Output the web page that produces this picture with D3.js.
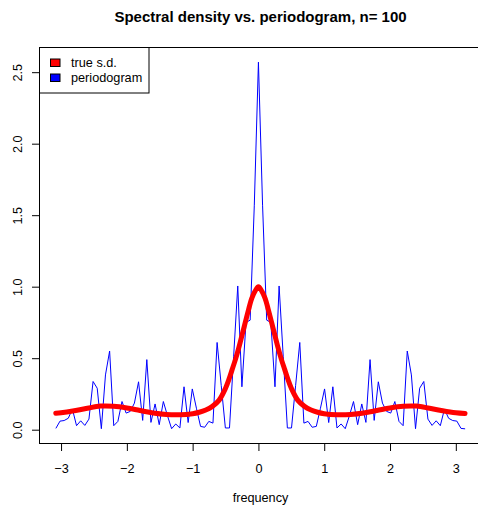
<!DOCTYPE html>
<meta charset="utf-8">
<html>
<script src="https://d3js.org/d3.v7.min.js"></script>
<style>
  body { margin: 0; background: white; }
  text { font-family: "Liberation Sans", Arial, sans-serif; fill: black; }
</style>
<body>
<div id="my_dataviz"></div>
<script>

// periodogram, frequencies 2*pi*k/100 for k = -49..50
const pgramK = d3.range(-49, 51)
const pgramValue = [
  0.009, 0.06, 0.064, 0.08, 0.144, 0.028, 0.062, 0.03, 0.074, 0.337,
  0.29, 0.007, 0.383, 0.55, 0.028, 0.058, 0.197, 0.116, 0.128, 0.186,
  0.335, 0.065, 0.49, 0.051, 0.18, 0.035, 0.197, 0.097, 0.007, 0.04,
  0.012, 0.30, 0.05, 0.285, 0.15, 0.023, 0.017, 0.058, 0.046, 0.61,
  0.31, 0.012, 0.012, 0.51, 1.005, 0.30, 0.75, 0.766, 1.57,
  2.57,
  1.57, 0.766, 0.75, 0.30, 1.005, 0.51, 0.012, 0.012, 0.31, 0.61,
  0.046, 0.058, 0.017, 0.023, 0.15, 0.285, 0.05, 0.30, 0.012, 0.04,
  0.007, 0.097, 0.197, 0.035, 0.18, 0.051, 0.49, 0.065, 0.335, 0.186,
  0.128, 0.116, 0.197, 0.058, 0.028, 0.55, 0.383, 0.007, 0.29, 0.337,
  0.074, 0.03, 0.062, 0.028, 0.144, 0.08, 0.064, 0.06, 0.009,
  0.006
]

// true spectral density
const sdFreq = [-3.08, -3.0, -2.8, -2.6, -2.4, -2.2, -2.0, -1.8, -1.6, -1.4, -1.2, -1.0, -0.9, -0.8, -0.7, -0.6,
  -0.5, -0.45, -0.4, -0.35, -0.3, -0.25, -0.2, -0.15, -0.1, -0.05, 0,
  0.05, 0.1, 0.15, 0.2, 0.25, 0.3, 0.35, 0.4, 0.45, 0.5,
  0.6, 0.7, 0.8, 0.9, 1.0, 1.2, 1.4, 1.6, 1.8, 2.0, 2.2, 2.4, 2.6, 2.8, 3.0, 3.14]
const sdValue = [0.115, 0.118, 0.132, 0.15, 0.165, 0.164, 0.152, 0.134, 0.117, 0.107, 0.105, 0.112, 0.122, 0.138, 0.163, 0.205,
  0.29, 0.35, 0.42, 0.49, 0.57, 0.66, 0.75, 0.84, 0.92, 0.97, 1.0,
  0.97, 0.92, 0.84, 0.75, 0.66, 0.57, 0.49, 0.42, 0.35, 0.29,
  0.205, 0.163, 0.138, 0.122, 0.112, 0.105, 0.107, 0.117, 0.134, 0.152, 0.164, 0.165, 0.15, 0.132, 0.118, 0.113]

const xTicks = [-3, -2, -1, 0, 1, 2, 3]
const yTicks = [0, 0.5, 1, 1.5, 2, 2.5]

const legendLabels = ["true s.d.", "periodogram"]
const legendColors = ["red", "blue"]

// set the dimensions of the page and the plot region
const width = 478, height = 506
const plot = {left: 39.5, top: 47.5, right: 481.5, bottom: 443.5}

const pgram = pgramK.map((k, i) => ({f: 2 * Math.PI * k / 100, v: pgramValue[i]}))
const sd = sdFreq.map((f, i) => ({f: f, v: sdValue[i]}))

// R style 4% expansion of the data range
function expand(ext) {
  const d = (ext[1] - ext[0]) * 0.04
  return [ext[0] - d, ext[1] + d]
}

const x = d3.scaleLinear()
  .domain(expand(d3.extent(pgram, d => d.f)))
  .range([plot.left, plot.right])
const y = d3.scaleLinear()
  .domain(expand([d3.min(pgram, d => d.v), d3.max(pgram, d => d.v)]))
  .range([plot.bottom, plot.top])

const svg = d3.select("#my_dataviz")
  .append("svg")
    .attr("width", width)
    .attr("height", height)

svg.append("clipPath")
    .attr("id", "clip")
  .append("rect")
    .attr("x", plot.left)
    .attr("y", plot.top)
    .attr("width", plot.right - plot.left)
    .attr("height", plot.bottom - plot.top)

// title
svg.append("text")
  .attr("x", (plot.left + plot.right) / 2)
  .attr("y", 21.7)
  .attr("text-anchor", "middle")
  .style("font-size", "15px")
  .style("font-weight", "bold")
  .text("Spectral density vs. periodogram, n= 100")

// periodogram
const line = d3.line()
  .x(d => x(d.f))
  .y(d => y(d.v))

svg.append("path")
  .datum(pgram)
  .attr("clip-path", "url(#clip)")
  .attr("d", line)
  .attr("fill", "none")
  .attr("stroke", "blue")
  .attr("stroke-width", 1)

// true spectral density
svg.append("path")
  .datum(sd)
  .attr("clip-path", "url(#clip)")
  .attr("d", line.curve(d3.curveCatmullRom))
  .attr("fill", "none")
  .attr("stroke", "red")
  .attr("stroke-width", 5)
  .attr("stroke-linecap", "round")
  .attr("stroke-linejoin", "round")

// axes
const xAxis = svg.append("g")
  .attr("transform", `translate(0, ${plot.bottom})`)
  .call(d3.axisBottom(x).tickValues(xTicks).tickSize(7.5).tickFormat(d3.format("d")))
xAxis.select(".domain").remove()
xAxis.selectAll("text")
  .attr("y", 29)
  .attr("dy", 0)
  .style("font-size", "12.7px")
  .style("font-family", null)

const yAxis = svg.append("g")
  .attr("transform", `translate(${plot.left}, 0)`)
  .call(d3.axisLeft(y).tickValues(yTicks).tickSize(7.5).tickFormat(d3.format(".1f")))
yAxis.select(".domain").remove()
yAxis.selectAll("text")
  .attr("x", 0)
  .attr("dy", 0)
  .attr("text-anchor", "middle")
  .attr("transform", "translate(-17.5, 0) rotate(-90)")
  .style("font-size", "12.7px")
  .style("font-family", null)

svg.selectAll(".tick line").attr("stroke", "black")

// box round the plot region
svg.append("rect")
  .attr("x", plot.left)
  .attr("y", plot.top)
  .attr("width", plot.right - plot.left)
  .attr("height", plot.bottom - plot.top)
  .attr("fill", "none")
  .attr("stroke", "black")

svg.append("text")
  .attr("x", (plot.left + plot.right) / 2)
  .attr("y", 501.5)
  .attr("text-anchor", "middle")
  .style("font-size", "12.7px")
  .text("frequency")

// legend
const legend = svg.append("g")
svg.append("rect")
  .attr("x", plot.left)
  .attr("y", plot.top)
  .attr("width", 109.5)
  .attr("height", 45.5)
  .attr("fill", "white")
  .attr("stroke", "black")

legendLabels.forEach((lab, i) => {
  svg.append("rect")
    .attr("x", 50.5)
    .attr("y", 59 + i * 15)
    .attr("width", 9.5)
    .attr("height", 7.5)
    .attr("fill", legendColors[i])
    .attr("stroke", "black")
  svg.append("text")
    .attr("x", 71)
    .attr("y", 67.3 + i * 15)
    .style("font-size", "12.7px")
    .text(lab)
})

</script>
</body>
</html>
